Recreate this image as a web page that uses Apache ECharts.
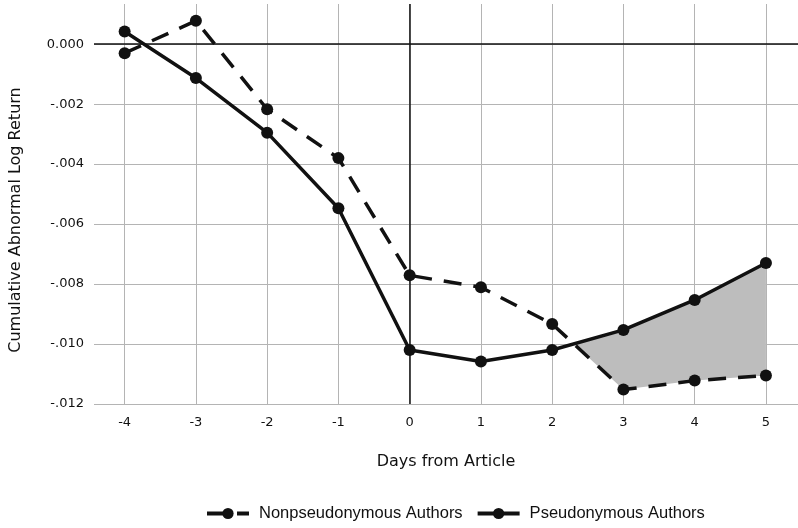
<!DOCTYPE html>
<html><head><meta charset="utf-8">
<script src="https://cdn.jsdelivr.net/npm/echarts@6/dist/echarts.min.js"></script>
<style>html,body{margin:0;padding:0;background:#fff}#c{width:798px;height:528px}</style>
</head><body><div id="c"></div>
<script>
const days = [-4, -3, -2, -1, 0, 1, 2, 3, 4, 5];
const nonPseudo = [-0.0003, 0.00078, -0.00217, -0.0038, -0.00771, -0.00811, -0.00933, -0.01152, -0.01122, -0.01105];
const pseudo = [0.00042, -0.00113, -0.00295, -0.00547, -0.0102, -0.01058, -0.0102, -0.00953, -0.00853, -0.0073];
const yTicks = [0, -0.002, -0.004, -0.006, -0.008, -0.010, -0.012];
const xTicks = [-4, -3, -2, -1, 0, 1, 2, 3, 4, 5];

const chart = echarts.init(document.getElementById('c'));
const AX = 'DejaVu Sans';
const pair = arr => days.map((d, i) => [d, arr[i]]);

// shaded area between the lines after they cross (between day 2 and 3)
function shadeRender(params, api) {
  const i = days.indexOf(2), j = days.indexOf(3);
  const d0 = pseudo[i] - nonPseudo[i], d1 = pseudo[j] - nonPseudo[j];
  const t = -d0 / (d1 - d0);
  const cx = days[i] + t * (days[j] - days[i]);
  const cy = pseudo[i] + t * (pseudo[j] - pseudo[i]);
  const pts = [api.coord([cx, cy])];
  for (let k = j; k < days.length; k++) pts.push(api.coord([days[k], pseudo[k]]));
  for (let k = days.length - 1; k >= j; k--) pts.push(api.coord([days[k], nonPseudo[k]]));
  return { type: 'polygon', shape: { points: pts }, style: { fill: '#bdbdbd' } };
}

chart.setOption({
  animation: false,
  backgroundColor: '#fff',
  grid: { left: 92, right: 0, top: 4, bottom: 124 },
  xAxis: {
    type: 'value', min: -4.43, max: 5.45,
    name: 'Days from Article', nameLocation: 'middle', nameGap: 50,
    nameTextStyle: { fontFamily: AX, fontSize: 16, color: '#111' },
    axisLine: { show: false },
    axisTick: { show: false, customValues: xTicks },
    axisLabel: { customValues: xTicks, fontFamily: AX, fontSize: 13, color: '#111', margin: 12,
      formatter: v => (v < 0 ? '-' + Math.abs(v) : String(v)) },
    splitLine: { show: true, lineStyle: { color: '#b4b4b4', width: 1 } }
  },
  yAxis: {
    type: 'value', min: -0.012, max: 0.00134,
    name: 'Cumulative Abnormal Log Return', nameLocation: 'middle', nameGap: 70,
    nameTextStyle: { fontFamily: AX, fontSize: 16, color: '#111', padding: [0, 32, 0, 0] },
    axisLine: { show: false },
    axisTick: { show: false, customValues: yTicks },
    axisLabel: { customValues: yTicks, fontFamily: AX, fontSize: 13, color: '#111', margin: 10,
      formatter: v => (Math.abs(v) < 1e-12 ? '0.000' : '-' + Math.abs(v).toFixed(3).replace(/^0/, '')) },
    splitLine: { show: true, lineStyle: { color: '#b4b4b4', width: 1 } }
  },
  legend: {
    bottom: 6, left: 205, padding: 0, itemWidth: 42, itemHeight: 14, itemGap: 13,
    lineStyle: { width: 4 },
    textStyle: { fontFamily: 'Liberation Sans', fontSize: 16.5, color: '#111', padding: [0, 0, 0, 5] },
    data: ['Nonpseudonymous Authors', 'Pseudonymous Authors']
  },
  series: [
    { type: 'custom', name: 'shade', renderItem: shadeRender, data: [0], z: 1, silent: true, clip: true },
    { type: 'line', name: 'Nonpseudonymous Authors', data: pair(nonPseudo), z: 3,
      symbol: 'circle', symbolSize: 12, color: '#111',
      lineStyle: { color: '#111', width: 3.5, type: [18, 12] }, itemStyle: { color: '#111' },
      markLine: { silent: true, symbol: 'none', label: { show: false }, animation: false,
        lineStyle: { color: '#111', width: 1.5, type: 'solid' },
        data: [{ yAxis: 0 }, { xAxis: 0 }] } },
    { type: 'line', name: 'Pseudonymous Authors', data: pair(pseudo), z: 4,
      symbol: 'circle', symbolSize: 12, color: '#111',
      lineStyle: { color: '#111', width: 3.5, type: 'solid' }, itemStyle: { color: '#111' } }
  ]
});
</script></body></html>
